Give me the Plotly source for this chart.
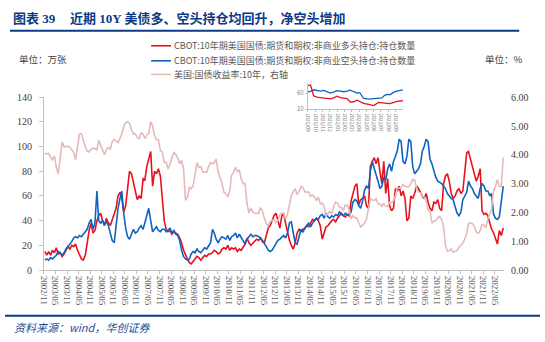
import pandas as pd
import plotly.graph_objects as go

# ---------------- data (monthly) ----------------
months = pd.date_range("2002-11-01", periods=239, freq="MS") + pd.Timedelta(days=14)

long_pos = [  # CBOT 10Y non-commercial long, 万张
    15, 12,
    15, 12, 16, 14, 18, 13, 14, 11, 13, 16, 19, 17,
    20, 19, 21, 16, 13, 9, 8, 12, 22, 32, 38, 30,
    32, 40, 44, 46, 40, 36, 42, 38, 36, 41, 45, 50,
    60, 63, 58, 47, 52, 68, 80, 78, 70, 62, 57, 60,
    58, 74, 73, 84, 90, 96, 68, 80, 78, 82, 76, 60,
    40, 33, 31, 32, 29, 31, 30, 29, 26, 22, 16, 12,
    9, 6, 5, 7, 9, 11, 10, 8, 10, 12, 11, 13,
    13, 14, 16, 15, 13, 14, 17, 18, 17, 20, 16, 18,
    17, 18, 15, 17, 16, 19, 21, 26, 22, 20, 22, 23,
    25, 24, 26, 23, 22, 28, 34, 36, 40, 44, 46, 40,
    34, 44, 46, 38, 30, 24, 20, 17, 22, 30, 33, 31,
    33, 34, 36, 35, 38, 41, 40, 42, 40, 36, 25, 30,
    35, 36, 38, 40, 41, 39, 42, 44, 46, 44, 43, 45,
    44, 56, 62, 68, 70, 53, 57, 58, 60, 52, 50, 84,
    88, 91, 86, 91, 80, 70, 88, 62, 74, 52, 48, 50,
    66, 64, 68, 60, 64, 58, 40, 42, 60, 58, 62, 68,
    66, 62, 60, 58, 62, 55, 50, 48, 55, 54, 57, 50,
    48, 70, 76, 78, 72, 62, 58, 60, 64, 66, 62, 64,
    80, 95, 96, 90, 86, 80, 72, 76, 82, 48, 45, 46,
    44, 38, 33, 30, 25, 21, 32, 28, 34,
]

short_pos = [  # CBOT 10Y non-commercial short, 万张
    8, 9,
    8, 10, 9, 11, 12, 15, 14, 12, 14, 17, 19, 21,
    23, 26, 27, 26, 28, 27, 29, 31, 33, 38, 41, 33,
    38, 64, 40, 38, 40, 37, 39, 36, 30, 24, 22, 38,
    50, 58, 64, 46, 34, 27, 25, 29, 33, 30, 31, 34,
    36, 33, 38, 44, 50, 40, 31, 33, 35, 32, 31, 33,
    33, 31, 32, 34, 30, 32, 29, 28, 24, 16, 11, 9,
    8, 9, 13, 15, 14, 17, 15, 14, 16, 18, 17, 20,
    22, 33, 30, 25, 22, 25, 27, 26, 25, 28, 24, 27,
    28, 30, 26, 29, 26, 23, 21, 25, 27, 29, 27, 28,
    28, 27, 26, 24, 22, 19, 16, 15, 16, 19, 22, 24,
    25, 27, 28, 26, 30, 38, 39, 30, 22, 21, 28, 33,
    31, 34, 36, 38, 35, 38, 40, 42, 41, 44, 45, 42,
    46, 43, 42, 44, 43, 45, 44, 47, 45, 44, 46, 45,
    44, 47, 55, 57, 56, 52, 50, 56, 65, 68, 66, 80,
    88, 82, 78, 72, 66, 68, 75, 73, 82, 86, 80, 88,
    92, 97, 106, 104, 88, 86, 92, 106, 104, 84, 78, 80,
    82, 86, 96, 100, 106, 104, 90, 86, 80, 75, 72, 71,
    70, 68, 66, 62, 60, 58, 57, 52, 46, 44, 47, 57,
    60, 63, 72, 68, 66, 62, 60, 58, 66, 70, 68, 64,
    64, 60, 62, 45, 42, 41, 43, 56, 68,
]

yield_10y = [  # US 10Y Treasury yield, %
    4.05, 4.03,
    4.05, 3.90, 3.81, 3.96, 3.57, 3.33, 3.98, 4.45, 4.27, 4.29, 4.30, 4.27,
    4.15, 4.08, 3.83, 4.35, 4.72, 4.73, 4.50, 4.28, 4.13, 4.10, 4.19, 4.23,
    4.22, 4.17, 4.50, 4.34, 4.14, 4.00, 4.18, 4.26, 4.20, 4.46, 4.54, 4.47,
    4.42, 4.57, 4.72, 4.99, 5.11, 5.15, 5.09, 4.88, 4.72, 4.73, 4.60, 4.56,
    4.76, 4.72, 4.56, 4.69, 4.75, 5.15, 5.00, 4.67, 4.52, 4.53, 4.15, 4.10,
    3.74, 3.74, 3.51, 3.68, 3.88, 4.10, 4.01, 3.89, 3.69, 3.81, 3.53, 2.42,
    2.52, 2.87, 2.82, 2.93, 3.29, 3.72, 3.56, 3.59, 3.40, 3.39, 3.40, 3.59,
    3.73, 3.69, 3.73, 3.85, 3.42, 3.20, 3.01, 2.70, 2.65, 2.54, 2.76, 3.29,
    3.39, 3.58, 3.41, 3.46, 3.17, 3.00, 3.00, 2.30, 1.98, 2.15, 2.01, 1.98,
    1.97, 1.97, 2.17, 2.05, 1.80, 1.62, 1.53, 1.68, 1.72, 1.75, 1.65, 1.72,
    1.91, 1.98, 1.96, 1.76, 1.93, 2.30, 2.58, 2.74, 2.81, 2.62, 2.72, 2.90,
    2.86, 2.71, 2.72, 2.71, 2.56, 2.60, 2.54, 2.42, 2.53, 2.30, 2.33, 2.21,
    1.88, 1.98, 2.04, 1.94, 2.20, 2.36, 2.32, 2.17, 2.17, 2.07, 2.26, 2.24,
    2.09, 1.78, 1.89, 1.81, 1.81, 1.64, 1.50, 1.56, 1.63, 1.76, 2.14, 2.49,
    2.43, 2.42, 2.48, 2.30, 2.30, 2.19, 2.32, 2.21, 2.20, 2.36, 2.35, 2.40,
    2.58, 2.86, 2.84, 2.87, 2.98, 2.91, 2.89, 2.89, 3.00, 3.15, 3.12, 2.83,
    2.71, 2.68, 2.57, 2.53, 2.40, 2.07, 2.06, 1.63, 1.70, 1.71, 1.81, 1.86,
    1.76, 1.50, 0.87, 0.66, 0.67, 0.73, 0.62, 0.65, 0.68, 0.79, 0.87, 0.93,
    1.08, 1.26, 1.61, 1.64, 1.62, 1.52, 1.32, 1.28, 1.37, 1.58, 1.56, 1.47,
    1.76, 1.93, 2.13, 2.75, 2.90, 3.14, 2.90, 2.90, 3.90,
]

x_tickvals = pd.date_range("2002-11-01", "2022-05-01", freq="6MS")
x_ticktext = [
    "2002/11", "2003/05", "2003/11", "2004/05", "2004/11", "2005/05", "2005/11",
    "2006/05", "2006/11", "2007/05", "2007/11", "2008/05", "2008/11", "2009/05",
    "2009/11", "2010/05", "2010/11", "2011/05", "2011/11", "2012/05", "2012/11",
    "2013/05", "2013/11", "2014/05", "2014/11", "2015/05", "2015/11", "2016/05",
    "2016/11", "2017/05", "2017/11", "2018/05", "2018/11", "2019/05", "2019/11",
    "2020/05", "2020/11", "2021/05", "2021/11", "2022/05",
]

# inset: last 12 months
inset_dates = [
    "2021-09-01", "2021-09-12", "2021-09-25", "2021-10-09", "2021-10-23",
    "2021-11-06", "2021-11-20", "2021-12-03", "2021-12-17", "2021-12-31",
    "2022-01-14", "2022-01-28", "2022-02-10", "2022-02-24", "2022-03-10",
    "2022-03-24", "2022-04-04", "2022-04-20", "2022-05-11", "2022-06-01",
    "2022-06-21", "2022-07-05", "2022-07-15", "2022-07-26", "2022-08-08",
    "2022-08-22", "2022-09-05", "2022-09-30",
]
inset_long = [83, 85, 51, 47, 46, 45, 44, 42, 45, 50, 46, 44, 43, 32, 33,
              38, 34, 28, 25, 21, 31, 29, 28, 28, 27, 31, 34, 36]
inset_short = [64, 65, 70, 69, 66, 68, 63, 60, 63, 67, 66, 64, 66, 69, 64,
               60, 61, 43, 41, 42, 43, 45, 52, 56, 55, 62, 66, 70]
inset_tickvals = pd.date_range("2021-09-01", "2022-09-01", freq="MS")
inset_ticktext = ["2021/09", "2021/10", "2021/11", "2021/12", "2022/01", "2022/02",
                  "2022/03", "2022/04", "2022/05", "2022/06", "2022/07", "2022/08",
                  "2022/09"]

names = [
    "CBOT:10年期美国国债:期货和期权:非商业多头持仓:持仓数量",
    "CBOT:10年期美国国债:期货和期权:非商业空头持仓:持仓数量",
    "美国:国债收益率:10年，右轴",
]

# ---------------- styles ----------------
W, H = 545, 342
RED, BLUE, PINK = "#E8121C", "#0F64BF", "#E6BABA"
NAVY = "#0B3A86"
GRAY_AX = "#BFBFBF"
SERIF = "Liberation Serif, Times New Roman, serif"
CJK = "Noto Sans CJK SC, sans-serif"


def px(x):
    return x / W


def py(y):
    return (H - y) / H


fig = go.Figure()
fig.add_trace(go.Scatter(x=months, y=yield_10y, name=names[2], yaxis="y2",
                         mode="lines", line=dict(color=PINK, width=1.6)))
fig.add_trace(go.Scatter(x=months, y=long_pos, name=names[0], mode="lines",
                         line=dict(color=RED, width=1.6)))
fig.add_trace(go.Scatter(x=months, y=short_pos, name=names[1], mode="lines",
                         line=dict(color=BLUE, width=1.6)))
fig.add_trace(go.Scatter(x=inset_dates, y=inset_short, xaxis="x3", yaxis="y3",
                         mode="lines", line=dict(color=BLUE, width=1.3),
                         showlegend=False))
fig.add_trace(go.Scatter(x=inset_dates, y=inset_long, xaxis="x3", yaxis="y3",
                         mode="lines", line=dict(color=RED, width=1.3),
                         showlegend=False))

fig.update_layout(
    width=W, height=H, margin=dict(l=0, r=0, t=0, b=0),
    paper_bgcolor="white", plot_bgcolor="rgba(0,0,0,0)",
    showlegend=False,
    xaxis=dict(domain=[px(39.3), px(503.7)], type="date",
               range=["2002-11-01", "2022-09-28"],
               tickvals=x_tickvals, ticktext=x_ticktext, tickangle=90,
               tickfont=dict(family=SERIF, size=9, color="#595959"),
               showline=True, linecolor=GRAY_AX, linewidth=1,
               ticks="outside", ticklen=3, tickcolor=GRAY_AX,
               showgrid=False, zeroline=False),
    yaxis=dict(domain=[py(273), py(95)], range=[0, 140], dtick=20,
               tickfont=dict(family=SERIF, size=10, color="#404040"),
               showline=True, linecolor=GRAY_AX, linewidth=1,
               ticks="outside", ticklen=4, tickcolor=GRAY_AX,
               ticklabelstandoff=5,
               showgrid=False, zeroline=False),
    yaxis2=dict(overlaying="y", side="right", anchor="x", range=[0, 6],
                tickvals=[0, 1, 2, 3, 4, 5, 6], tickformat=".2f",
                tickfont=dict(family=SERIF, size=10, color="#404040"),
                ticklabelstandoff=6,
                showline=False, ticks="", showgrid=False, zeroline=False),
    xaxis3=dict(domain=[px(305.7), px(401.6)], anchor="y3", type="date",
                range=["2021-09-01", "2022-09-30"],
                tickvals=inset_tickvals, ticktext=inset_ticktext, tickangle=90,
                tickfont=dict(family=CJK, size=5, color="#7F7F7F"),
                showline=True, linecolor=GRAY_AX, linewidth=1,
                ticks="outside", ticklen=2, tickcolor=GRAY_AX,
                showgrid=False, zeroline=False),
    yaxis3=dict(domain=[py(107.3), py(80.7)], anchor="x3", range=[10, 90],
                tickvals=[10, 60],
                tickfont=dict(family=CJK, size=6, color="#7F7F7F"),
                showline=True, linecolor=GRAY_AX, linewidth=1,
                ticks="outside", ticklen=2, tickcolor=GRAY_AX,
                showgrid=False, zeroline=False),
)

shapes = []
annotations = []

# title
annotations.append(dict(text="<b>图表 39</b>", x=px(6), y=py(13.5), xref="paper", yref="paper",
                        xanchor="left", yanchor="middle", showarrow=False,
                        font=dict(family="Liberation Serif, Noto Sans CJK SC", size=13, color=NAVY)))
annotations.append(dict(text="<b>近期 10Y 美债多、空头持仓均回升，净空头增加</b>", x=px(64), y=py(13.5),
                        xref="paper", yref="paper", xanchor="left", yanchor="middle",
                        showarrow=False,
                        font=dict(family="Liberation Serif, Noto Sans CJK SC", size=13, color=NAVY)))
shapes.append(dict(type="line", xref="paper", yref="paper", x0=px(5), x1=px(519),
                   y0=py(26.5), y1=py(26.5), line=dict(color=NAVY, width=2)))

# legend (drawn)
for color, yy, name in [(RED, 42, names[0]), (BLUE, 57.5, names[1]), (PINK, 71.5, names[2])]:
    shapes.append(dict(type="line", xref="paper", yref="paper", x0=px(147.5), x1=px(167.5),
                       y0=py(yy), y1=py(yy), line=dict(color=color, width=1.6)))
    annotations.append(dict(text=name, x=px(169), y=py(yy), xref="paper", yref="paper",
                            xanchor="left", yanchor="middle", showarrow=False,
                            font=dict(family=CJK, size=9, color="#595959")))

# units
annotations.append(dict(text="单位：万张", x=px(12), y=py(56), xref="paper", yref="paper",
                        xanchor="left", yanchor="middle", showarrow=False,
                        font=dict(family=CJK, size=9.5, color="#404040")))
annotations.append(dict(text="单位：%", x=px(482), y=py(56), xref="paper", yref="paper",
                        xanchor="left", yanchor="middle", showarrow=False,
                        font=dict(family=CJK, size=9.5, color="#404040")))

# footer
shapes.append(dict(type="line", xref="paper", yref="paper", x0=0, x1=px(540),
                   y0=py(320), y1=py(320), line=dict(color=NAVY, width=2)))
annotations.append(dict(text="<i>资料来源：wind，华创证券</i>", x=px(7), y=py(332), xref="paper",
                        yref="paper", xanchor="left", yanchor="middle", showarrow=False,
                        font=dict(family=CJK, size=11, color="#1F4E9A")))

fig.update_layout(shapes=shapes, annotations=annotations)
fig.write_html("out.html")
